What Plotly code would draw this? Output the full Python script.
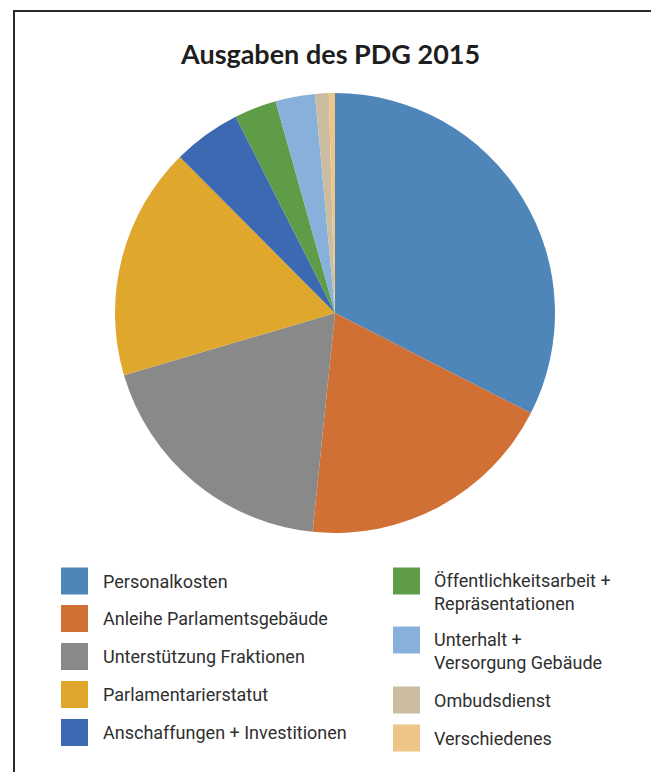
import plotly.graph_objects as go

W, H = 659, 772
OFF = 8  # page body margin in the browser

labels = [
    "Personalkosten",
    "Anleihe Parlamentsgebäude",
    "Unterstützung Fraktionen",
    "Parlamentarierstatut",
    "Anschaffungen + Investitionen",
    "Öffentlichkeitsarbeit +<br>Repräsentationen",
    "Unterhalt +<br>Versorgung Gebäude",
    "Ombudsdienst",
    "Verschiedenes",
]
values = [32.5, 19.1, 18.8, 17.1, 5.0, 3.1, 2.9, 1.0, 0.45]
colors = ["#4F86BA", "#D07035", "#898989", "#DFA72B", "#3C69B2",
          "#5F9C48", "#87B1DB", "#CCBDA1", "#EDC586"]
title = "Ausgaben des PDG 2015"

# legend layout: (column x of square, y center of square, y center of text)
leg_col = [0, 0, 0, 0, 0, 1, 1, 1, 1]
leg_sq_y = [581, 618.5, 656.5, 694.5, 732.5, 581, 640, 700, 738]
leg_txt_y = [581, 618.5, 656.5, 694.5, 732.5, 592, 651, 700, 738]
col_sq_x = [61, 393]
col_txt_x = [101, 432]
SQ = 27


def px(x):
    return (x - OFF) / W


def py(y):
    return 1 - (y - OFF) / H


fig = go.Figure()
fig.add_trace(go.Pie(
    labels=[l.replace("<br>", " ") for l in labels],
    values=values,
    marker=dict(colors=colors, line=dict(width=0)),
    sort=False,
    direction="clockwise",
    rotation=0,
    textinfo="none",
    showlegend=False,
    domain=dict(x=[px(115), px(555)], y=[py(533), py(93)]),
))

shapes = [dict(type="rect", xref="paper", yref="paper",
               x0=px(14), x1=px(657), y0=py(800), y1=py(11),
               line=dict(color="#2a2a2a", width=2), fillcolor="rgba(0,0,0,0)")]
annotations = [dict(text="<b>" + title + "</b>", xref="paper", yref="paper",
                    x=px(330), y=py(54), xanchor="center", yanchor="middle",
                    showarrow=False,
                    font=dict(family="Lato", size=27, color="#1e1e1e"))]

for i, lab in enumerate(labels):
    c = leg_col[i]
    sx = col_sq_x[c]
    sy = leg_sq_y[i]
    shapes.append(dict(type="rect", xref="paper", yref="paper",
                       x0=px(sx), x1=px(sx + SQ),
                       y0=py(sy + SQ / 2), y1=py(sy - SQ / 2),
                       line=dict(width=0), fillcolor=colors[i]))
    annotations.append(dict(text=lab, xref="paper", yref="paper",
                            x=px(col_txt_x[c]), y=py(leg_txt_y[i]),
                            xanchor="left", yanchor="middle", align="left",
                            showarrow=False,
                            font=dict(family="Roboto", size=18,
                                      color="#2f2f2f")))

fig.update_layout(
    width=W, height=H,
    margin=dict(l=0, r=0, t=0, b=0),
    paper_bgcolor="white",
    plot_bgcolor="white",
    shapes=shapes,
    annotations=annotations,
)

fig.write_html("out.html")
